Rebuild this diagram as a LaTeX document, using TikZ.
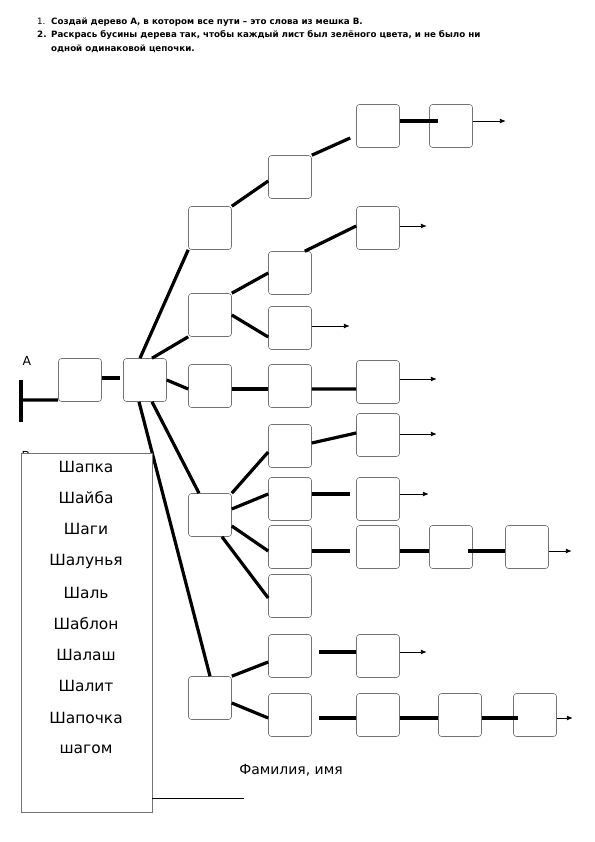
\documentclass[tikz,border=0pt]{standalone}
\usepackage{fontspec}
\setmainfont{DejaVu Sans}
\usetikzlibrary{arrows.meta}

\tikzset{
  bead/.style={draw=black!55, line width=.6bp, rounded corners=3bp, minimum size=43bp, inner sep=0pt},
  link/.style={line width=3.2bp},
  tail/.style={line width=.9bp, -{Latex[length=6bp,width=5bp]}},
  word/.style={font=\fontsize{15.5}{18}\selectfont},
  task/.style={anchor=base west, inner sep=0pt, font=\fontsize{8.75}{11}\selectfont\bfseries}
}

\begin{document}
\begin{tikzpicture}[x=1bp, y=-1bp]
  \useasboundingbox (0,0) rectangle (595,842);

  \node (n1) [task, font=\fontsize{8.75}{11}\selectfont] at (37,24) {1.};
  \node (t1) [task] at (51,24) {Создай дерево А, в котором все пути – это слова из мешка В.};
  \node (n2) [task] at (37,37.5) {2.};
  \node (t2) [task] at (51,37.5) {Раскрась бусины дерева так, чтобы каждый лист был зелёного цвета, и не было ни};
  \node (t3) [task] at (51,51) {одной одинаковой цепочки.};

  \node (la) [font=\fontsize{12.5}{14}\selectfont] at (27,361) {А};
  \node (lb) [font=\fontsize{12.5}{14}\selectfont] at (26,455.5) {В};

  \node (r) [bead] at (80,380) {};
  \node (h) [bead] at (145,380) {};

  \node (b1) [bead] at (210,228) {};
  \node (b2) [bead] at (210,315) {};
  \node (b3) [bead] at (210,386) {};
  \node (b4) [bead] at (210,515) {};
  \node (b5) [bead] at (210,698) {};

  \node (c1) [bead] at (290,177) {};
  \node (c2) [bead] at (290,273) {};
  \node (c3) [bead] at (290,328) {};
  \node (c4) [bead] at (290,386) {};
  \node (c5) [bead] at (290,446) {};
  \node (c6) [bead] at (290,499) {};
  \node (c7) [bead] at (290,547) {};
  \node (c8) [bead] at (290,596) {};
  \node (c9) [bead] at (290,656) {};
  \node (c10) [bead] at (290,715) {};

  \node (d1) [bead] at (378,126) {};
  \node (d2) [bead] at (378,228) {};
  \node (d4) [bead] at (378,382) {};
  \node (d5) [bead] at (378,435) {};
  \node (d6) [bead] at (378,499) {};
  \node (d7) [bead] at (378,547) {};
  \node (d9) [bead] at (378,656) {};
  \node (d10) [bead] at (378,715) {};

  \node (e1) [bead] at (451,126) {};
  \node (e7) [bead] at (451,547) {};
  \node (e10) [bead] at (460,715) {};

  \node (f7) [bead] at (527,547) {};
  \node (f10) [bead] at (535,715) {};

  \coordinate (t) at (21,400);
  \draw [line width=4bp] (21,380) -- (21,422);
  \draw [link] (t) -- ([yshift=-20bp]r.west);
  \draw [link, shorten >=3bp] ([yshift=2bp]r.east) -- ([yshift=2bp]h.west);

  \draw [link] ([xshift=-5bp]h.north) -- (b1.south west);
  \draw [link] ([xshift=7bp]h.north) -- (b2.south west);
  \draw [link] (h.east) -- ([yshift=-3bp]b3.west);
  \draw [link] ([xshift=7bp]h.south) -- ([xshift=-11bp]b4.north);
  \draw [link] ([xshift=-6bp]h.south) -- (b5.north);

  \draw [link] (b1.north east) -- ([yshift=-4bp]c1.west);
  \draw [link] (c1.north east) -- ([xshift=-6bp,yshift=-12bp]d1.west);
  \draw [link] ([yshift=5bp]d1.east) -- ([xshift=9bp,yshift=5bp]e1.west);
  \draw [tail] ([yshift=5bp]e1.east) -- ++(33,0);

  \draw [link] (b2.north east) -- (c2.west);
  \draw [link] ([xshift=-7bp]c2.north east) -- ([yshift=2bp]d2.west);
  \draw [tail] ([yshift=2bp]d2.east) -- ++(27,0);
  \draw [link] (b2.east) -- ([yshift=-9bp]c3.west);
  \draw [tail] ([yshift=2bp]c3.east) -- ++(38,0);

  \draw [link] ([yshift=-3bp]b3.east) -- ([yshift=-3bp]c4.west);
  \draw [link] ([yshift=-3bp]c4.east) -- ([yshift=-7bp]d4.west);
  \draw [tail] ([yshift=3bp]d4.east) -- ++(37,0);

  \draw [link] (b4.north east) -- ([yshift=-6bp]c5.west);
  \draw [link] ([yshift=3bp]c5.east) -- ([yshift=2bp]d5.west);
  \draw [tail] ([yshift=1bp]d5.east) -- ++(37,0);
  \draw [link] ([yshift=6bp]b4.east) -- ([yshift=5bp]c6.west);
  \draw [link] ([yshift=5bp]c6.east) -- ([xshift=-6bp,yshift=5bp]d6.west);
  \draw [tail] ([yshift=5bp]d6.east) -- ++(29,0);
  \draw [link] ([yshift=-11bp]b4.east) -- ([yshift=-4bp]c7.west);
  \draw [link] ([yshift=-4bp]c7.east) -- ([xshift=-6bp,yshift=-4bp]d7.west);
  \draw [link] ([yshift=-4bp]d7.east) -- ([yshift=-4bp]e7.west);
  \draw [link] ([xshift=-5bp,yshift=-4bp]e7.east) -- ([yshift=-4bp]f7.west);
  \draw [tail] ([yshift=-4bp]f7.east) -- ++(23,0);
  \draw [link] ([xshift=12bp]b4.south) -- ([yshift=-2bp]c8.west);

  \draw [link] (b5.north east) -- ([yshift=-6bp]c9.west);
  \draw [link] ([xshift=7bp,yshift=4bp]c9.east) -- ([yshift=4bp]d9.west);
  \draw [tail] ([yshift=4bp]d9.east) -- ++(27,0);
  \draw [link] ([yshift=-5bp]b5.east) -- ([yshift=-3bp]c10.west);
  \draw [link] ([xshift=7bp,yshift=-3bp]c10.east) -- ([yshift=-3bp]d10.west);
  \draw [link] ([yshift=-3bp]d10.east) -- ([yshift=-3bp]e10.west);
  \draw [link] ([yshift=-3bp]e10.east) -- ([xshift=5bp,yshift=-3bp]f10.west);
  \draw [tail] ([yshift=-3bp]f10.east) -- ++(16,0);

  \node (bag) [draw=black!55, line width=.8bp, fill=white, minimum width=131bp, minimum height=359bp, anchor=north west, inner sep=0pt] at (21,453) {};
  \node (w1) [word] at (86,467) {Шапка};
  \node (w2) [word] at (86,498) {Шайба};
  \node (w3) [word] at (86,529) {Шаги};
  \node (w4) [word] at (86,561) {Шалунья};
  \node (w5) [word] at (86,593) {Шаль};
  \node (w6) [word] at (86,624) {Шаблон};
  \node (w7) [word] at (86,655) {Шалаш};
  \node (w8) [word] at (86,686) {Шалит};
  \node (w9) [word] at (86,718) {Шапочка};
  \node (w10) [word] at (86,749) {шагом};

  \node (fio) [font=\fontsize{14}{16}\selectfont] at (291,770) {Фамилия, имя};
  \draw [line width=.8bp] (152,798) -- (244,798);
\end{tikzpicture}
\end{document}
